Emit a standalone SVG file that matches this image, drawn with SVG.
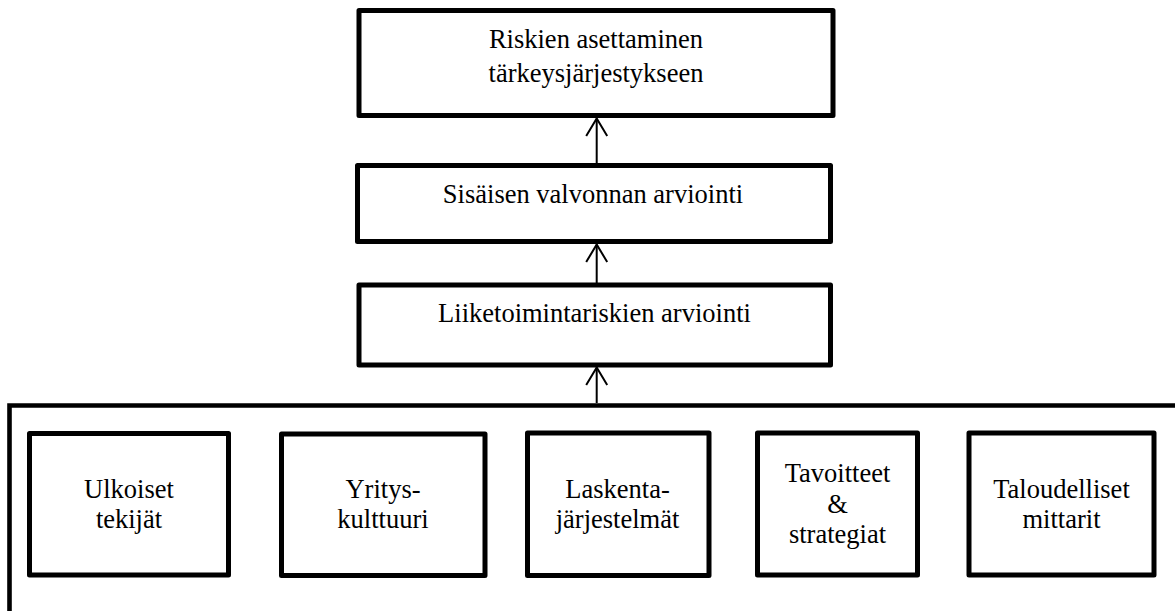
<svg xmlns="http://www.w3.org/2000/svg" width="1175" height="611" viewBox="0 0 1175 611">
<style>
.box{fill:#fff;stroke:#000;stroke-width:5;stroke-linejoin:round}
.frame{fill:none;stroke:#000;stroke-width:4.6}
.con{fill:none;stroke:#000;stroke-width:2}
text{font-family:"Liberation Serif","Times New Roman",serif;font-size:26.5px;fill:#000;text-anchor:middle}
</style>
<defs>
<marker id="arr" viewBox="-20 -12 24 24" refX="0" refY="0" markerWidth="24" markerHeight="24" markerUnits="userSpaceOnUse" orient="auto">
<path d="M-17.5,-10.5 L0,0 L-17.5,10.5" fill="none" stroke="#000" stroke-width="2"/>
</marker>
</defs>
<g id="frame"><path class="frame" d="M9.5,611 V405.5 H1175"/></g>
<g id="connectors">
<line class="con" x1="596.7" y1="163" x2="596.7" y2="118.5" marker-end="url(#arr)"/>
<line class="con" x1="596.7" y1="283" x2="596.7" y2="244.5" marker-end="url(#arr)"/>
<line class="con" x1="596.7" y1="403" x2="596.7" y2="367.5" marker-end="url(#arr)"/>
</g>
<g id="n-riskien"><rect class="box" x="359" y="10.5" width="474" height="105"/>
<text x="596" y="48.3">Riskien asettaminen</text><text x="596" y="81.5">tärkeysjärjestykseen</text></g>
<g id="n-sisainen"><rect class="box" x="357.5" y="165.5" width="473" height="76"/>
<text x="593" y="203.3">Sisäisen valvonnan arviointi</text></g>
<g id="n-liiketoiminta"><rect class="box" x="359" y="285" width="471.5" height="80"/>
<text x="594.5" y="321.7">Liiketoimintariskien arviointi</text></g>
<g id="n-ulkoiset"><rect class="box" x="29.5" y="433.5" width="199" height="141.5"/>
<text x="129" y="498.3">Ulkoiset</text><text x="129" y="528.3">tekijät</text></g>
<g id="n-yritys"><rect class="box" x="281.5" y="434" width="203.5" height="141.5"/>
<text x="383" y="498.3">Yritys-</text><text x="383" y="528.3">kulttuuri</text></g>
<g id="n-laskenta"><rect class="box" x="527.5" y="433" width="181.5" height="142.5"/>
<text x="617.5" y="498.3">Laskenta-</text><text x="617.5" y="528.3">järjestelmät</text></g>
<g id="n-tavoitteet"><rect class="box" x="757.5" y="433" width="160" height="142"/>
<text x="837.5" y="481.7">Tavoitteet</text><text x="837.5" y="512.5">&amp;</text><text x="837.5" y="543.3">strategiat</text></g>
<g id="n-taloudelliset"><rect class="box" x="969" y="433" width="185" height="142"/>
<text x="1061.5" y="498.3">Taloudelliset</text><text x="1061.5" y="528.3">mittarit</text></g>
</svg>
